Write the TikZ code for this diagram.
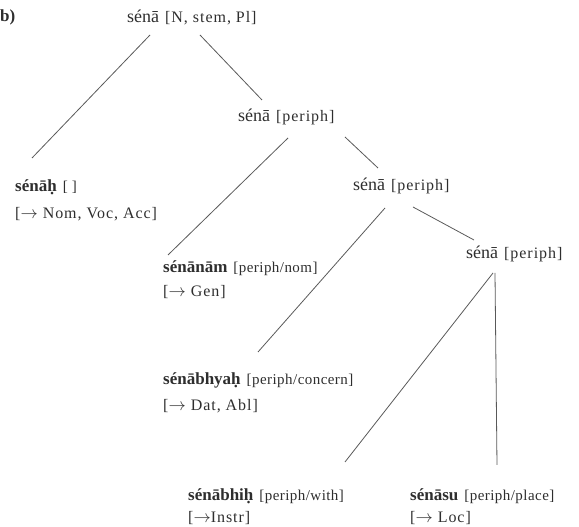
\documentclass[tikz,border=0pt]{standalone}
\usepackage{fontspec}
\setmainfont{Liberation Serif}
\usetikzlibrary{calc}
\tikzset{
  lbl/.style={anchor=west, inner sep=0pt, text=black!82},
  conn/.style={draw=black!65, line width=0.8pt},
}
\newcommand{\wrdx}[1]{{\fontsize{18}{20}\selectfont #1}\hspace{6pt}}
\newcommand{\bwrdx}[1]{{\fontsize{17}{19}\selectfont\bfseries #1}\hspace{6pt}}
\newcommand{\brkx}[1]{{\fontsize{16}{18}\selectfont\addfontfeatures{LetterSpace=6}#1}}
\newcommand{\lbrkx}[1]{{\fontsize{15}{17}\selectfont\addfontfeatures{LetterSpace=3}#1}}
\newcommand{\arr}{$\rightarrow$}
\begin{document}
\begin{tikzpicture}[x=1pt,y=1pt]
\useasboundingbox (0,0) rectangle (579,527);
\node[lbl] (b) at (0,510) {\fontsize{17}{19}\selectfont\bfseries b)};
\node[lbl] (root) at (127,510) {\wrdx{sénā}\brkx{[N, stem, Pl]}};
\node[lbl] (p1) at (238,410) {\wrdx{sénā}\brkx{[periph]}};
\node[lbl] (p2) at (353,341) {\wrdx{sénā}\brkx{[periph]}};
\node[lbl] (p3) at (466,273) {\wrdx{sénā}\brkx{[periph]}};
\node[lbl] (l0) at (15,340) {\bwrdx{sénāḥ}\lbrkx{[ ]}};
\node[lbl] (l0b) at (15,313) {\brkx{[\arr{} Nom, Voc, Acc]}};
\node[lbl] (l1) at (163,259) {\bwrdx{sénānām}\lbrkx{[periph/nom]}};
\node[lbl] (l1b) at (163,235) {\brkx{[\arr{} Gen]}};
\node[lbl] (l2) at (163,147) {\bwrdx{sénābhyaḥ}\lbrkx{[periph/concern]}};
\node[lbl] (l2b) at (163,121) {\brkx{[\arr{} Dat, Abl]}};
\node[lbl] (l3) at (188,31) {\bwrdx{sénābhiḥ}\lbrkx{[periph/with]}};
\node[lbl] (l3b) at (188,9) {\brkx{[\arr{}Instr]}};
\node[lbl] (l4) at (410,31) {\bwrdx{sénāsu}\lbrkx{[periph/place]}};
\node[lbl] (l4b) at (410,9) {\brkx{[\arr{} Loc]}};
\draw[conn] ($(root.west)+(23,-18)$) -- ($(l0.west)+(17,29)$);
\draw[conn] ($(root.west)+(73,-18)$) -- ($(p1.west)+(24,17)$);
\draw[conn] ($(p1.west)+(50,-21)$) -- ($(l1.west)+(5,13)$);
\draw[conn] ($(p1.west)+(107,-20)$) -- ($(p2.west)+(25,18)$);
\draw[conn] ($(p2.west)+(32,-22)$) -- ($(l2.west)+(95,28)$);
\draw[conn] ($(p2.west)+(60,-21)$) -- ($(p3.west)+(8,14)$);
\draw[conn] ($(p3.west)+(27,-19)$) -- ($(l3.west)+(157,34)$);
\draw[conn] ($(p3.west)+(29,-19)$) -- ($(l4.west)+(87,31)$);
\end{tikzpicture}
\end{document}
